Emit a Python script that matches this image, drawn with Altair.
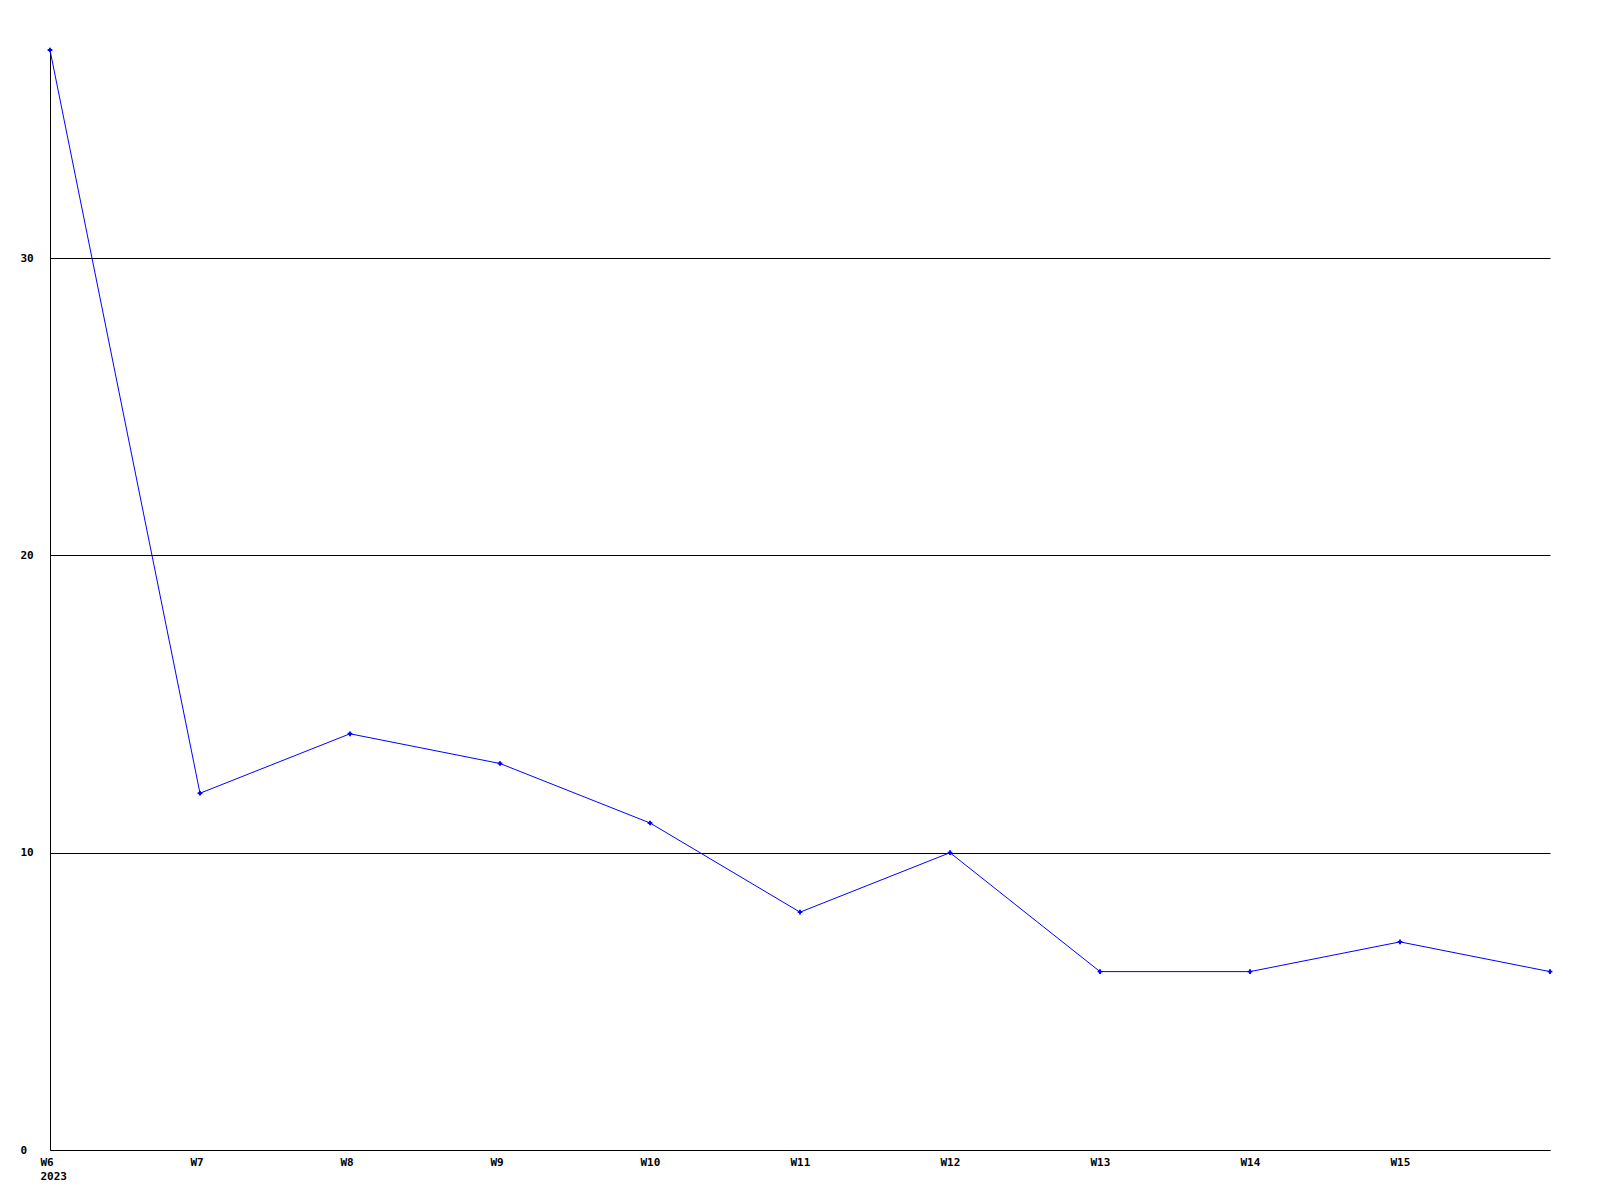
import altair as alt
import pandas as pd

weeks = ["W6", "W7", "W8", "W9", "W10", "W11", "W12", "W13", "W14", "W15", "W16"]
values = [37, 12, 14, 13, 11, 8, 10, 6, 6, 7, 6]
y_ticks = [0, 10, 20, 30]

df = pd.DataFrame({"week": weeks, "value": values})

FONT = "DejaVu Sans Mono"

x = alt.X(
    "week:N",
    sort=weeks,
    scale=alt.Scale(type="point", domain=weeks, padding=0),
    axis=alt.Axis(
        title=None,
        ticks=False,
        grid=False,
        domainColor="black",
        domainWidth=1,
        labelFont=FONT,
        labelFontWeight="bold",
        labelFontSize=11,
        labelColor="black",
        labelAngle=0,
        labelAlign="left",
        labelOffset=-10,
        labelBaseline="top",
        labelPadding=6,
        labelLineHeight=14,
        labelOverlap=False,
        labelBound=False,
        labelFlush=False,
        labelExpr="datum.value == 'W6' ? ['W6', '2023'] : (datum.value == 'W16' ? '' : datum.value)",
    ),
)

y = alt.Y(
    "value:Q",
    scale=alt.Scale(domain=[0, 37], nice=False, zero=True),
    axis=alt.Axis(
        title=None,
        values=y_ticks,
        ticks=False,
        grid=True,
        gridColor="black",
        gridWidth=1,
        gridOpacity=1,
        domainColor="black",
        domainWidth=1,
        labelFont=FONT,
        labelFontWeight="bold",
        labelFontSize=11,
        labelColor="black",
        labelAlign="left",
        labelBaseline="middle",
        labelPadding=30,
        labelFlush=False,
    ),
)

line = alt.Chart(df).mark_line(color="#0000ff", strokeWidth=1).encode(x=x, y=y)
pts = alt.Chart(df).mark_point(shape="cross", filled=True, color="#0000ff", size=22, opacity=1).encode(x=x, y=y)

chart = (
    alt.layer(line, pts)
    .properties(
        width=1500,
        height=1100,
        background="white",
        autosize=alt.AutoSizeParams(type="none"),
        padding={"left": 42, "top": 42, "right": 40, "bottom": 40},
    )
    .configure_view(strokeWidth=0, stroke="transparent")
)

chart.save("out.html", embed_options={"renderer": "svg", "actions": False})
